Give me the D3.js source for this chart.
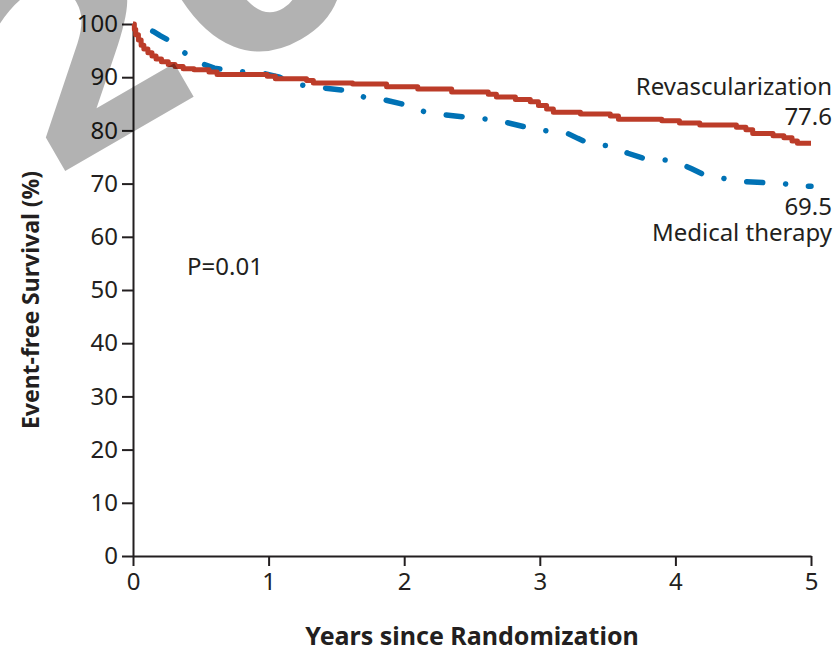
<!DOCTYPE html>
<html>
<head>
<meta charset="utf-8">
<script src="https://cdn.jsdelivr.net/npm/d3@7"></script>
<style>
  body { margin: 0; background: #fff; }
  svg text { font-family: "Noto Sans", sans-serif; fill: #231f20; }
</style>
</head>
<body>
<div id="km"></div>
<script>
// Kaplan-Meier step values (years, event-free survival %)
var revascYears = [0, 0.01, 0.02, 0.04, 0.06, 0.08, 0.11, 0.14, 0.17, 0.21, 0.26, 0.31, 0.37, 0.45, 0.56, 0.62,
  0.99, 1.05, 1.28, 1.33, 1.62, 1.87, 2.1, 2.35, 2.62, 2.68, 2.82, 2.93, 2.99, 3.05, 3.1, 3.3, 3.52, 3.58,
  3.9, 4.03, 4.18, 4.45, 4.52, 4.57, 4.72, 4.8, 4.86, 4.9, 5.0];
var revascSurv = [100, 99, 98, 97, 96, 95.3, 94.6, 94, 93.4, 92.9, 92.4, 92, 91.6, 91.4, 91, 90.5,
  90.2, 89.7, 89.4, 88.9, 88.7, 88.2, 87.8, 87.2, 86.8, 86.3, 85.8, 85.4, 84.7, 84.0, 83.4, 83.1, 82.7, 82.1,
  81.8, 81.4, 81, 80.6, 80.1, 79.4, 79.0, 78.6, 78.0, 77.6, 77.6];

var medYears = [0, 0.08, 0.15, 0.2, 0.26, 0.31, 0.37, 0.43, 0.5, 0.6, 0.75, 0.95, 1.08, 1.17, 1.25, 1.4, 1.54,
  1.62, 1.7, 1.86, 1.98, 2.07, 2.15, 2.3, 2.45, 2.62, 2.77, 2.9, 3.05, 3.2, 3.28, 3.35, 3.5, 3.58, 3.65, 3.76,
  3.94, 4.05, 4.12, 4.2, 4.37, 4.5, 4.8, 4.9, 5.0];
var medSurv = [100, 99.4, 98.6, 97.8, 97, 96, 94.8, 93.6, 92.6, 91.7, 91.1, 90.8, 90.0, 89.2, 88.5, 88.0, 87.6,
  87, 86.3, 85.7, 85.0, 84.2, 83.5, 82.9, 82.5, 82.1, 81.4, 80.6, 79.9, 79.5, 78.5, 77.7, 77.1, 76.5, 75.7, 74.8,
  74.4, 73.6, 72.8, 71.8, 70.9, 70.4, 70.0, 69.5, 69.5];

var yTicks = [0, 10, 20, 30, 40, 50, 60, 70, 80, 90, 100];
var xTicks = [0, 1, 2, 3, 4, 5];

var revasc = revascYears.map(function(t, i) { return {t: t, s: revascSurv[i]}; });
var med = medYears.map(function(t, i) { return {t: t, s: medSurv[i]}; });

var W = 840, H = 651;
var svg = d3.select("#km").append("svg")
  .attr("width", W)
  .attr("height", H);

var x = d3.scaleLinear().domain([0, 5]).range([133, 811]);
var y = d3.scaleLinear().domain([0, 100]).range([556, 24]);

// axes
var yAxis = svg.append("g")
  .attr("transform", "translate(133,0)")
  .call(d3.axisLeft(y).tickValues(yTicks).tickSize(11).tickPadding(4).tickSizeOuter(0));
var xAxis = svg.append("g")
  .attr("transform", "translate(0,556)")
  .call(d3.axisBottom(x).tickValues(xTicks).tickFormat(d3.format("d"))
    .tickSize(10).tickPadding(7).tickSizeOuter(0));

[yAxis, xAxis].forEach(function(a) {
  a.select(".domain").attr("stroke", "#231f20").attr("stroke-width", 2);
  a.selectAll(".tick line").attr("stroke", "#231f20").attr("stroke-width", 2);
  a.selectAll(".tick text")
    .style("font-family", "Noto Sans")
    .style("font-size", "24px")
    .attr("fill", "#231f20");
});

// survival curves
var lineRevasc = d3.line()
  .x(function(d) { return x(d.t); })
  .y(function(d) { return y(d.s); })
  .curve(d3.curveStepAfter);

var lineMed = d3.line()
  .x(function(d) { return x(d.t); })
  .y(function(d) { return y(d.s); });

svg.append("path")
  .datum(med)
  .attr("d", lineMed)
  .attr("fill", "none")
  .attr("stroke", "#0072b5")
  .attr("stroke-width", 5.5)
  .attr("stroke-linecap", "round")
  .attr("stroke-dasharray", "16,23,0.01,23")
  .attr("stroke-dashoffset", 41);

svg.append("path")
  .datum(revasc)
  .attr("d", lineRevasc)
  .attr("fill", "none")
  .attr("stroke", "#bc3c29")
  .attr("stroke-width", 5)
  .attr("stroke-linejoin", "round");

// labels
svg.append("text").attr("x", 832).attr("y", 95).attr("text-anchor", "end")
  .style("font-size", "24px").text("Revascularization");
svg.append("text").attr("x", 832).attr("y", 125).attr("text-anchor", "end")
  .style("font-size", "24px").text("77.6");
svg.append("text").attr("x", 832).attr("y", 215).attr("text-anchor", "end")
  .style("font-size", "24px").text("69.5");
svg.append("text").attr("x", 832).attr("y", 241).attr("text-anchor", "end")
  .style("font-size", "24px").text("Medical therapy");
svg.append("text").attr("x", 187).attr("y", 275)
  .style("font-size", "24px").text("P=0.01");

// axis titles
svg.append("text")
  .attr("x", 472).attr("y", 645)
  .attr("text-anchor", "middle")
  .style("font-size", "25px").style("font-weight", "bold")
  .text("Years since Randomization");
svg.append("text")
  .attr("transform", "translate(39,300) rotate(-90)")
  .attr("text-anchor", "middle")
  .style("font-size", "23px").style("font-weight", "bold")
  .text("Event-free Survival (%)");

// watermark
svg.append("text")
  .attr("transform", "translate(46,182) rotate(-30)")
  .style("font-family", "DejaVu Sans")
  .style("font-weight", "bold")
  .style("font-size", "280px")
  .style("fill", "#000")
  .style("fill-opacity", 0.3)
  .text("20");
</script>
</body>
</html>
